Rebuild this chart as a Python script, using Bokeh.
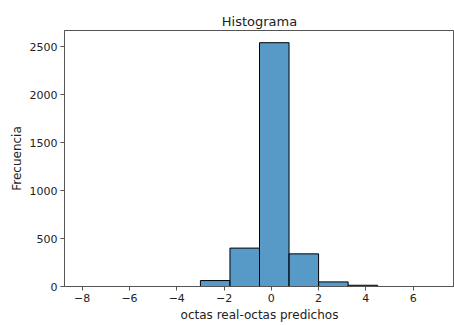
from bokeh.plotting import figure
from bokeh.models import Range1d, FixedTicker, ColumnDataSource
from bokeh.embed import file_html
from bokeh.resources import INLINE

bin_start = -8.0
bin_width = 1.25
counts = [0, 0, 0, 0, 62, 400, 2540, 340, 48, 13, 0, 0]
x_ticks = [-8, -6, -4, -2, 0, 2, 4, 6]
y_ticks = [0, 500, 1000, 1500, 2000, 2500]

lefts = [bin_start + i * bin_width for i in range(len(counts))]
rights = [l + bin_width for l in lefts]
src = ColumnDataSource(dict(left=lefts, right=rights, top=counts, bottom=[0] * len(counts)))

x_lo = lefts[0] - 0.05 * (rights[-1] - lefts[0])
x_hi = rights[-1] + 0.05 * (rights[-1] - lefts[0])

p = figure(width=454, height=325, output_backend="svg", toolbar_location=None,
           x_range=Range1d(x_lo, x_hi), y_range=Range1d(0, max(counts) * 1.05),
           title="Histograma", min_border_left=64, min_border_right=0,
           min_border_top=30, min_border_bottom=39)
p.quad(left="left", right="right", top="top", bottom="bottom", source=src,
       fill_color="#1f77b4", fill_alpha=0.75, line_color="black", line_width=1)

p.title.align = "center"
p.title.text_font = "DejaVu Sans"
p.title.text_font_size = "13px"
p.title.text_font_style = "normal"
p.title.text_color = "#222222"
p.title.offset = 0
p.title.standoff = 4

p.xgrid.visible = False
p.ygrid.visible = False
p.outline_line_color = "#555555"
p.outline_line_width = 1
p.background_fill_color = "white"
p.border_fill_color = "white"

p.xaxis.ticker = FixedTicker(ticks=x_ticks)
p.yaxis.ticker = FixedTicker(ticks=y_ticks)
p.xaxis.major_label_overrides = {t: (str(t).replace("-", "\u2212")) for t in x_ticks}
p.xaxis.axis_label = "octas real-octas predichos"
p.yaxis.axis_label = "Frecuencia"
for ax in (p.xaxis[0], p.yaxis[0]):
    ax.axis_line_color = "#555555"
    ax.major_tick_line_color = "#555555"
    ax.minor_tick_line_color = None
    ax.major_tick_out = 4
    ax.major_tick_in = 0
    ax.major_label_text_font = "DejaVu Sans"
    ax.major_label_text_font_size = "11px"
    ax.major_label_text_color = "#222222"
    ax.axis_label_text_font = "DejaVu Sans"
    ax.axis_label_text_font_size = "12px"
    ax.axis_label_text_font_style = "normal"
    ax.axis_label_text_color = "#222222"
    ax.major_label_standoff = 3
    ax.axis_label_standoff = 3

open("out.html", "w").write(file_html(p, INLINE))
